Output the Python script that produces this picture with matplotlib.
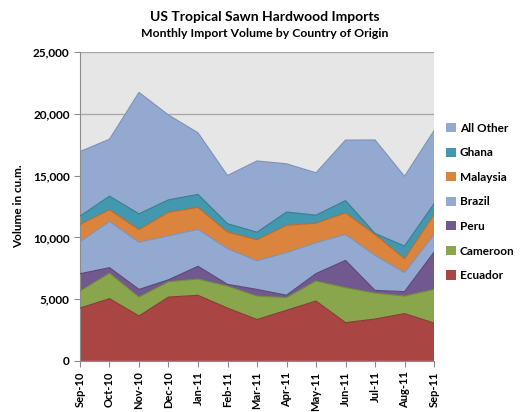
import numpy as np
import matplotlib
matplotlib.use("Agg")
import matplotlib.pyplot as plt
from matplotlib.ticker import FuncFormatter

plt.rcParams['font.family'] = ['Lato', 'DejaVu Sans']

months = ["Sep-10", "Oct-10", "Nov-10", "Dec-10", "Jan-11", "Feb-11", "Mar-11",
          "Apr-11", "May-11", "Jun-11", "Jul-11", "Aug-11", "Sep-11"]

ecuador  = [4280, 5040, 3640, 5170, 5310, 4280, 3350, 4100, 4850, 3100, 3390, 3830, 3070]
cameroon = [1370, 2070, 1530, 1240, 1320, 1780, 1900, 1030, 1620, 2830, 2100, 1420, 2720]
peru     = [1410, 440, 620, 160, 1030, 140, 540, 190, 600, 2210, 220, 360, 3010]
brazil   = [2590, 3740, 3820, 3560, 2990, 2890, 2320, 3450, 2500, 2100, 2830, 1540, 1430]
malaysia = [1400, 950, 1030, 1910, 1780, 1340, 1700, 2210, 1580, 1750, 1700, 1130, 1620]
ghana    = [670, 1100, 1270, 1000, 1050, 680, 610, 1070, 650, 990, 80, 1020, 870]
other    = [5230, 4610, 9830, 6870, 4990, 3900, 5770, 3910, 3430, 4900, 7570, 5650, 5920]

names = ["Ecuador", "Cameroon", "Peru", "Brazil", "Malaysia", "Ghana", "All Other"]
colors = ["#A94643", "#8AA64C", "#71588F", "#94A9D0", "#DB843D", "#4298AF", "#94A9D0"]
edges = ["#8C3836", "#718A3C", "#5C4775", "#7E92B8", "#B86B2E", "#357D90", "#7E92B8"]

series = [ecuador, cameroon, peru, brazil, malaysia, ghana, other]

fig = plt.figure(figsize=(5.28, 4.12), dpi=100)
ax = fig.add_axes([0.1515, 0.124, 0.6705, 0.7495])
ax.set_facecolor("#E6E6E6")

x = np.arange(len(months))
bottom = np.zeros(len(months))
handles = []
for vals, name, c, ec in zip(series, names, colors, edges):
    top = bottom + np.array(vals)
    h = ax.fill_between(x, bottom, top, facecolor=c, edgecolor="none", label=name, zorder=2)
    ax.plot(x, top, color=ec, lw=0.8, zorder=3)
    handles.append(h)
    bottom = top

ax.set_xlim(0, len(months) - 1)
ax.set_ylim(0, 25000)
ax.set_yticks(range(0, 25001, 5000))
ax.yaxis.set_major_formatter(FuncFormatter(lambda v, p: f"{int(v):,}"))
ax.grid(axis="y", color="#A6A6A6", lw=0.9, zorder=1)
ax.set_axisbelow(True)
ax.set_xticks(x)
ax.set_xticklabels(months, rotation=90, fontsize=8, fontweight="bold")
for lab in ax.get_yticklabels():
    lab.set_fontsize(8.5)
    lab.set_fontweight("bold")

for s in ["top", "right"]:
    ax.spines[s].set_visible(False)
for s in ["left", "bottom"]:
    ax.spines[s].set_color("#8C8C8C")
ax.tick_params(colors="#8C8C8C", labelcolor="black", length=4)

ax.set_ylabel("Volume in cu.m.", fontsize=8.5, fontweight="bold", labelpad=6)

fig.text(0.502, 0.958, "US Tropical Sawn Hardwood Imports", ha="center", va="center",
         fontsize=10, fontweight="bold")
fig.text(0.502, 0.918, "Monthly Import Volume by Country of Origin", ha="center", va="center",
         fontsize=8.8, fontweight="bold")

leg = fig.legend(handles[::-1], names[::-1], loc="center left", bbox_to_anchor=(0.845, 0.51),
                 frameon=False, prop={"weight": "bold", "size": 8.5},
                 handlelength=0.8, handleheight=0.8, handletextpad=0.35, labelspacing=1.15,
                 borderaxespad=0, borderpad=0)

fig.savefig("out.png", dpi=100)
